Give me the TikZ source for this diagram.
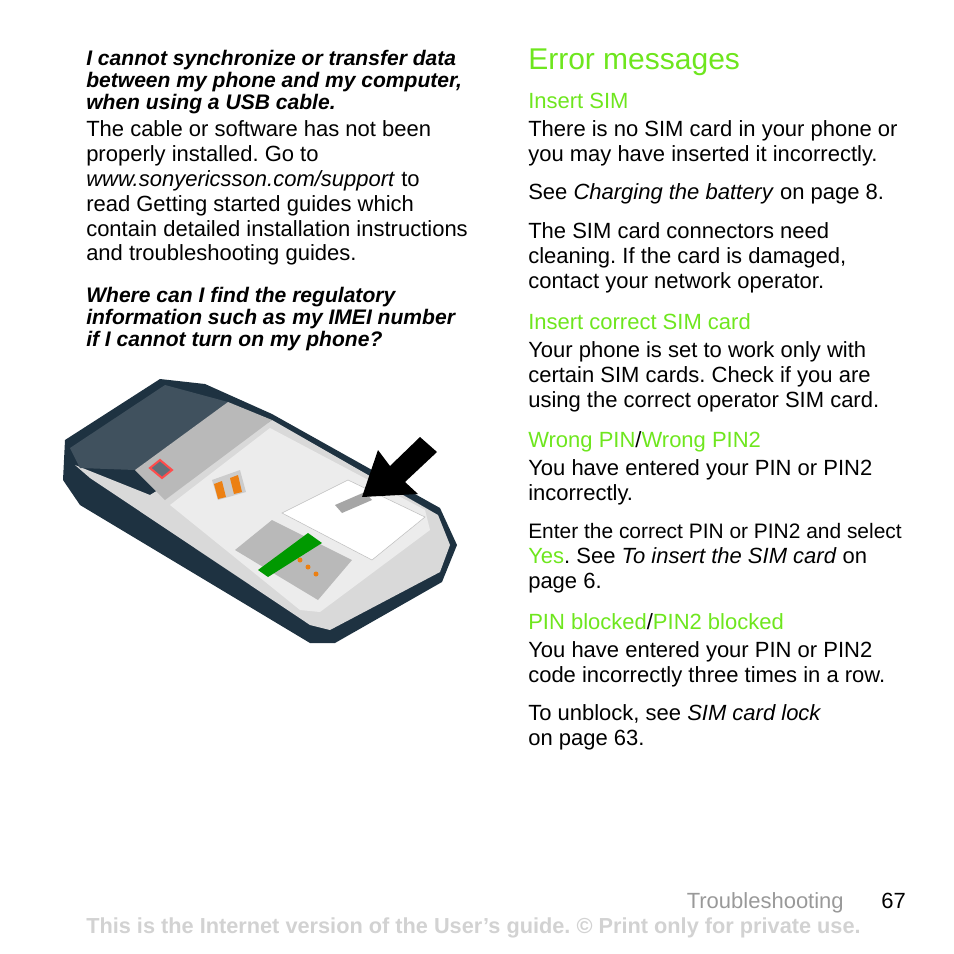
\documentclass[tikz,border=0pt]{standalone}
\usepackage{fontspec}
\setmainfont{Liberation Sans}
\begin{document}
\frenchspacing
\begin{tikzpicture}[x=0.75pt,y=-0.75pt,
  body/.style={anchor=base west,inner sep=0pt,font=\fontsize{16.5}{19}\selectfont},
  qst/.style={anchor=base west,inner sep=0pt,font=\fontsize{15.8}{18}\selectfont\bfseries\itshape},
  grn/.style={anchor=base west,inner sep=0pt,font=\fontsize{16.5}{19}\selectfont,text=errgreen},
  foot/.style={inner sep=0pt,font=\fontsize{16.5}{19}\selectfont}]
\definecolor{errgreen}{RGB}{110,230,30}
\definecolor{dark}{RGB}{30,50,65}
\useasboundingbox (0,0) rectangle (954,954);
% left column
\node[qst] (q1) at (86,65) {I cannot synchronize or transfer data};
\node[qst] (q2) at (86,87) {between my phone and my computer,};
\node[qst] (q3) at (86,109) {when using a USB cable.};
\node[body] (b1) at (86,136) {The cable or software has not been};
\node[body] (b2) at (86,161) {properly installed. Go to};
\node[body] (b3) at (86,186) {\textit{www.sonyericsson.com/support} to};
\node[body] (b4) at (86,211) {read Getting started guides which};
\node[body] (b5) at (86,236) {contain detailed installation instructions};
\node[body] (b6) at (86,260) {and troubleshooting guides.};
\node[qst] (q4) at (86,302) {Where can I find the regulatory};
\node[qst] (q5) at (86,324) {information such as my IMEI number};
\node[qst] (q6) at (86,346) {if I cannot turn on my phone?};
% phone
\fill[dark] (65,440) -- (160,379) -- (205,384) -- (272,414) -- (440,508) -- (457,545) -- (442,582) -- (335,643) -- (310,643) -- (80,505) -- (63,480) -- cycle;
\fill[gray!30] (75,465) -- (90,478) -- (310,625) -- (330,630) -- (440,572) -- (450,545) -- (438,515) -- (272,420) -- (150,495) -- cycle;
\fill[dark!85] (70,448) -- (165,385) -- (228,402) -- (135,470) -- (80,468) -- cycle;
\fill[gray!55] (228,402) -- (272,420) -- (165,500) -- (135,470) -- cycle;
\draw[red!70,line width=1.5pt,fill=dark!70] (150,468) -- (160,460) -- (172,470) -- (162,478) -- cycle;
\fill[gray!15] (170,505) -- (270,428) -- (425,510) -- (430,530) -- (320,612) -- (300,610) -- cycle;
\fill[gray!40] (212,480) -- (240,470) -- (246,492) -- (218,500) -- cycle;
\fill[orange!70!brown] (214,484) -- (222,481) -- (226,497) -- (218,499) -- cycle;
\fill[orange!70!brown] (230,478) -- (238,475) -- (242,492) -- (234,494) -- cycle;
\fill[gray!55] (235,550) -- (272,520) -- (352,560) -- (318,600) -- cycle;
\fill[green!60!black] (258,570) -- (308,533) -- (322,543) -- (268,577) -- cycle;
\fill[orange!70!brown] (300,560) circle (2.5) (308,567) circle (2.5) (316,574) circle (2.5);
\fill[white,draw=gray!50] (282,513) -- (348,480) -- (425,517) -- (372,560) -- cycle;
\fill[gray!70] (335,505) -- (365,492) -- (372,500) -- (342,513) -- cycle;
\fill[black] (362,497) -- (378,450) -- (390,466) -- (420,437) -- (437,452) -- (405,482) -- (418,494) -- cycle;
% right column
\node[anchor=base west,inner sep=0pt,font=\fontsize{22.5}{26}\selectfont,text=errgreen] (h) at (528,69) {Error messages};
\node[grn] (g1) at (528,108) {Insert SIM};
\node[body] (r1) at (528,136) {There is no SIM card in your phone or};
\node[body] (r2) at (528,161) {you may have inserted it incorrectly.};
\node[body] (r3) at (528,199) {See \textit{Charging the battery} on page 8.};
\node[body] (r4) at (528,238) {The SIM card connectors need};
\node[body] (r5) at (528,263) {cleaning. If the card is damaged,};
\node[body] (r6) at (528,288) {contact your network operator.};
\node[grn] (g2) at (528,329) {Insert correct SIM card};
\node[body] (r7) at (528,357) {Your phone is set to work only with};
\node[body] (r8) at (528,382) {certain SIM cards. Check if you are};
\node[body] (r9) at (528,407) {using the correct operator SIM card.};
\node[grn] (g3) at (528,447) {Wrong PIN\textcolor{black}{/}Wrong PIN2};
\node[body] (r10) at (528,475) {You have entered your PIN or PIN2};
\node[body] (r11) at (528,500) {incorrectly.};
\node[body,font=\fontsize{15.7}{19}\selectfont] (r12) at (528,538) {Enter the correct PIN or PIN2 and select};
\node[body] (r13) at (528,563) {\textcolor{errgreen}{Yes}. See \textit{To insert the SIM card} on};
\node[body] (r14) at (528,588) {page 6.};
\node[grn] (g4) at (528,629) {PIN blocked\textcolor{black}{/}PIN2 blocked};
\node[body] (r15) at (528,657) {You have entered your PIN or PIN2};
\node[body] (r16) at (528,682) {code incorrectly three times in a row.};
\node[body] (r17) at (528,720) {To unblock, see \textit{SIM card lock}};
\node[body] (r18) at (528,745) {on page 63.};
% footer
\node[foot,anchor=base east,text=gray!80] (f1) at (844,908) {Troubleshooting};
\node[foot,anchor=base east] (f2) at (906,908) {67};
\node[foot,anchor=base west,font=\fontsize{16.3}{19}\selectfont\bfseries,text=gray!35] (f3) at (86,933) {This is the Internet version of the User's guide. © Print only for private use.};
\end{tikzpicture}
\end{document}
